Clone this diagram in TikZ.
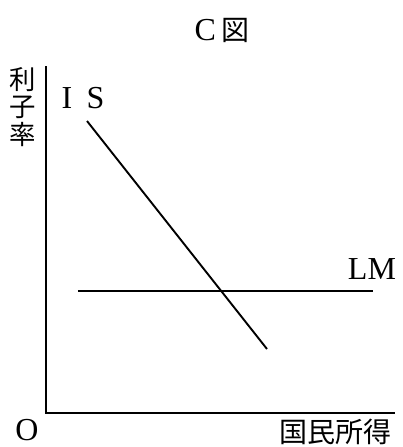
\documentclass[tikz,border=0pt]{standalone}
\usepackage{fontspec}
\setmainfont{Liberation Serif}
\newfontfamily\jfont{Noto Sans CJK JP}
\usetikzlibrary{positioning}

\begin{document}
\begin{tikzpicture}[
  x=0.5pt, y=-0.5pt,
  font=\fontsize{16}{16}\selectfont,
  axis/.style={line width=0.7pt},
  curve/.style={line width=0.95pt},
  jlbl/.style={font=\fontsize{14}{14}\selectfont\jfont},
  lbl/.style={inner sep=0pt, anchor=center}
]
\useasboundingbox (0,0) rectangle (403,447);

% axes
\coordinate (origin) at (46,413);
\coordinate (ytop) at (46,66);
\coordinate (xend) at (395,413);
\draw[axis] (ytop) -- (origin) -- (xend);

% labels
\node[lbl] (title) at (222,30) {C\,{\fontsize{14}{14}\selectfont\jfont 図}};
\node[lbl, align=center, font=\fontsize{13.2}{13.6}\selectfont\jfont] (rate) at (23,107) {利\\子\\率};
\node[lbl] (o) at (27,430) {O};
\node[lbl, jlbl] (income) at (336,432) {国民所得};

% curves
\coordinate (is1) at (87,121);
\coordinate (is2) at (267,349);
\draw[curve] (is1) -- (is2);
\node[lbl] (islbl) at (83,98) {I\hspace{0.45em}S};

\coordinate (lm1) at (78,291);
\coordinate (lm2) at (373,291);
\draw[curve] (lm1) -- (lm2);
\node[lbl] (lmlbl) at (372,269) {LM};
\end{tikzpicture}
\end{document}
